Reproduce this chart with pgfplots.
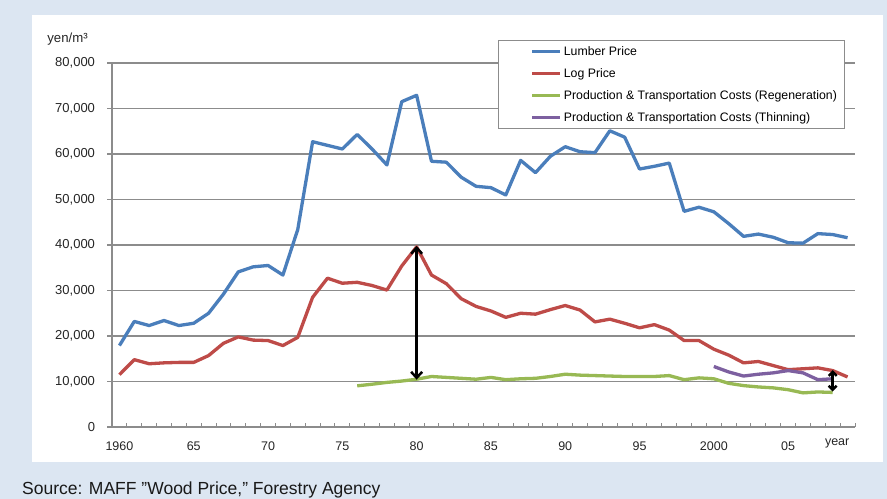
\documentclass[border=0pt]{standalone}
\usepackage{fontspec}
\setmainfont{Liberation Sans}
\usepackage{pgfplots}
\pgfplotsset{compat=1.18}
\usetikzlibrary{arrows.meta}
\definecolor{bgblue}{HTML}{DCE6F2}
\definecolor{lumber}{HTML}{4A7EBB}
\definecolor{logc}{HTML}{BE4B48}
\definecolor{regen}{HTML}{98B954}
\definecolor{thinc}{HTML}{7D60A0}
\definecolor{gridc}{HTML}{8C8C8C}
\begin{document}
\begin{tikzpicture}
\fill[bgblue] (-112bp,-72bp) rectangle (775bp,427bp);
\fill[white] (-80bp,-35bp) rectangle (771bp,412bp);
\begin{axis}[
  at={(0,0)}, anchor=south west,
  scale only axis, width=743bp, height=364bp,
  xmin=1959.5, xmax=2009.5, ymin=0, ymax=80000,
  clip=false,
  axis x line=bottom, axis y line=left,
  axis line style={-, gridc, line width=1.3bp},
  xtick={1960,1965,...,2005},
  xticklabels={1960,65,70,75,80,85,90,95,2000,05},
  major x tick style={draw=none},
  minor xtick={1959.5,1960.5,...,2009.5},
  minor x tick style={gridc, line width=1bp, yshift=2bp},
  minor tick length=4bp,
  ytick={0,10000,...,80000},
  major tick length=5bp,
  tick align=center,
  y tick style={gridc, line width=1.2bp, xshift=-2.5bp},
  ymajorgrids,
  grid style={gridc, line width=1.3bp},
  scaled y ticks=false,
  /pgf/number format/.cd, 1000 sep={,}, assume math mode=true,
  /pgfplots/.cd,
  yticklabel style={font=\fontsize{13bp}{15bp}\selectfont, text=black!85, xshift=-11bp},
  xticklabel style={font=\fontsize{12.5bp}{15bp}\selectfont, text=black!85, yshift=-9bp},
  legend style={at={(0.5195,1.063)}, anchor=north west, draw=gridc, line width=1bp, fill=white,
    font=\fontsize{12.3bp}{14bp}\selectfont, row sep=7.5bp, inner xsep=6bp, inner ysep=4bp},
  legend cell align=left,
  legend image code/.code={\path[draw=none] (0bp,0bp) -- (26bp,0bp); \draw[#1,line width=2.8bp] (28bp,0bp) -- (56bp,0bp);},
]
\addplot[lumber, line width=3.3bp, line join=round] coordinates {
(1960,17900)(1961,23200)(1962,22300)(1963,23400)(1964,22300)(1965,22800)(1966,25000)(1967,29200)(1968,34100)(1969,35200)
(1970,35500)(1971,33400)(1972,43400)(1973,62700)(1974,61900)(1975,61100)(1976,64300)(1977,61100)(1978,57600)(1979,71500)
(1980,72900)(1981,58400)(1982,58200)(1983,54900)(1984,52900)(1985,52600)(1986,51000)(1987,58600)(1988,55900)(1989,59500)
(1990,61600)(1991,60500)(1992,60300)(1993,65100)(1994,63700)(1995,56700)(1996,57300)(1997,58000)(1998,47400)(1999,48300)
(2000,47300)(2001,44700)(2002,41900)(2003,42400)(2004,41700)(2005,40500)(2006,40400)(2007,42500)(2008,42300)(2009,41600)};
\addlegendentry{Lumber Price}
\addplot[logc, line width=3.3bp, line join=round] coordinates {
(1960,11500)(1961,14800)(1962,13900)(1963,14100)(1964,14200)(1965,14200)(1966,15700)(1967,18400)(1968,19800)(1969,19100)
(1970,19000)(1971,17900)(1972,19700)(1973,28500)(1974,32700)(1975,31600)(1976,31800)(1977,31100)(1978,30100)(1979,35400)
(1980,39600)(1981,33400)(1982,31500)(1983,28200)(1984,26500)(1985,25500)(1986,24100)(1987,25000)(1988,24800)(1989,25800)
(1990,26700)(1991,25700)(1992,23100)(1993,23700)(1994,22800)(1995,21800)(1996,22500)(1997,21300)(1998,19000)(1999,19000)
(2000,17100)(2001,15800)(2002,14100)(2003,14400)(2004,13500)(2005,12600)(2006,12800)(2007,13000)(2008,12400)(2009,11000)};
\addlegendentry{Log Price}
\addplot[regen, line width=3.3bp, line join=round] coordinates {
(1976,9050)(1977,9400)(1978,9800)(1979,10100)
(1980,10500)(1981,11100)(1982,10900)(1983,10700)(1984,10500)(1985,10900)(1986,10400)(1987,10600)(1988,10700)(1989,11100)
(1990,11600)(1991,11400)(1992,11300)(1993,11200)(1994,11100)(1995,11100)(1996,11100)(1997,11300)(1998,10400)(1999,10800)
(2000,10600)(2001,9600)(2002,9100)(2003,8800)(2004,8600)(2005,8200)(2006,7500)(2007,7700)(2008,7600)};
\addlegendentry{Production \& Transportation Costs (Regeneration)}
\addplot[thinc, line width=3.3bp, line join=round] coordinates {
(2000,13300)(2001,12100)(2002,11200)(2003,11600)(2004,11900)(2005,12400)(2006,11900)(2007,10400)(2008,10600)};
\addlegendentry{Production \& Transportation Costs (Thinning)}
\draw[black, line width=2.5bp, {Straight Barb[length=6bp,width=11bp]}-{Straight Barb[length=6bp,width=11bp]}]
  (axis cs:1980,10400) -- (axis cs:1980,39800);
\draw[black, line width=2.5bp, {Straight Barb[length=4bp,width=8bp]}-{Straight Barb[length=4bp,width=8bp]}]
  (axis cs:2008,7800) -- (axis cs:2008,12500);
\node[font=\fontsize{12.5bp}{15bp}\selectfont, text=black!85] at (axis cs:2008.3,0) [yshift=-16bp] {year};
\end{axis}
\node[font=\fontsize{13.2bp}{15bp}\selectfont, text=black!85] at (-44.5bp,388bp) {yen/m³};
\node[anchor=west, font=\fontsize{17.5bp}{20bp}\selectfont, text=black!90, inner sep=0pt] at (-90bp,-63bp) {Source: MAFF "Wood Price," Forestry Agency};
\pgfresetboundingbox
\useasboundingbox (-112bp,-72bp) rectangle (775bp,427bp);
\end{tikzpicture}
\end{document}
